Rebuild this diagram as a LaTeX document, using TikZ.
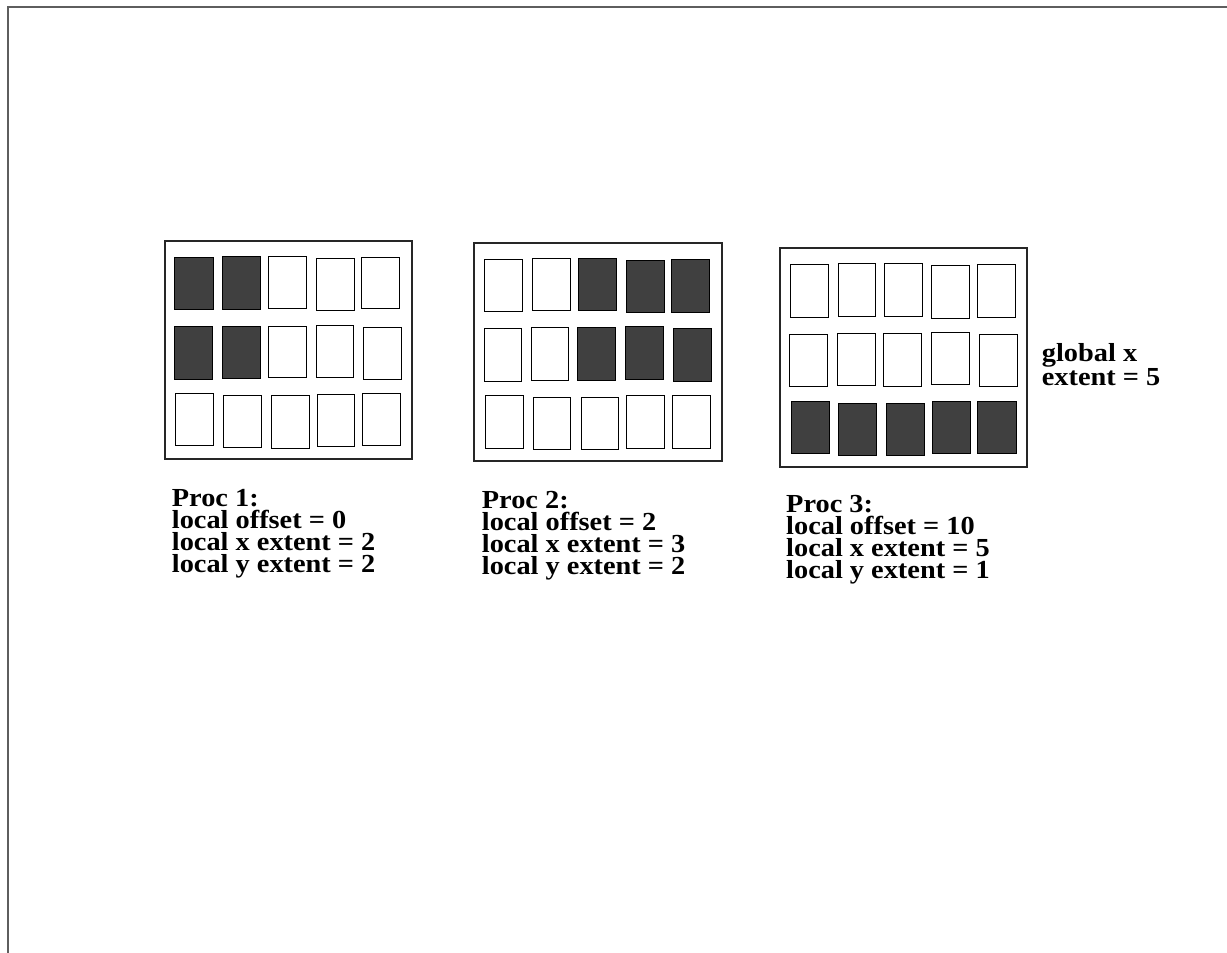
\documentclass[tikz,border=0pt]{standalone}
\usepackage{fontspec}
\setmainfont{Liberation Serif}[FakeStretch=1.09]
\definecolor{cdark}{HTML}{404040}
\definecolor{cframe}{HTML}{5E5E5E}
\tikzset{
  cellw/.style={draw=black, line width=1pt, fill=white},
  celld/.style={draw=black, line width=1pt, fill=cdark},
  procbox/.style={draw=black!85, line width=1.2pt},
  lab/.style={font=\bfseries\fontsize{26}{22}\selectfont, align=left, inner sep=0pt, anchor=base west},
}
\begin{document}
\begin{tikzpicture}[x=1pt,y=-1pt]
\useasboundingbox (0,0) rectangle (1227,953);
\draw[cframe, line width=2pt] (8.3,953) -- (8.3,6.7) -- (1227,6.7);
% boxes
\draw[procbox] (165,241) rectangle (412,459);
\draw[procbox] (474,243) rectangle (722,461);
\draw[procbox] (780,248) rectangle (1027,467);
% box 1 cells
\foreach \a/\b/\c/\d/\s in {
 174/257/213/309/celld, 222/256/260/309/celld, 268/256/306/308/cellw, 316/258/354/310/cellw, 361/257/399/308/cellw,
 174/326/212/379/celld, 222/326/260/378/celld, 268/326/306/377/cellw, 316/325/353/377/cellw, 363/327/401/379/cellw,
 175/393/213/445/cellw, 223/395/261/447/cellw, 271/395/309/448/cellw, 317/394/354/446/cellw, 362/393/400/445/cellw}
 \draw[\s] (\a,\b) rectangle (\c,\d);
% box 2 cells
\foreach \a/\b/\c/\d/\s in {
 484/259/522/311/cellw, 532/258/570/310/cellw, 578/258/616/310/celld, 626/260/664/312/celld, 671/259/709/312/celld,
 484/328/521/381/cellw, 531/327/568/380/cellw, 577/327/615/380/celld, 625/326/663/379/celld, 673/328/711/381/celld,
 485/395/523/448/cellw, 533/397/570/449/cellw, 581/397/618/449/cellw, 626/395/664/448/cellw, 672/395/710/448/cellw}
 \draw[\s] (\a,\b) rectangle (\c,\d);
% box 3 cells
\foreach \a/\b/\c/\d/\s in {
 790/264/828/317/cellw, 838/263/875/316/cellw, 884/263/922/316/cellw, 931/265/969/318/cellw, 977/264/1015/317/cellw,
 789/334/827/386/cellw, 837/333/875/385/cellw, 883/333/921/386/cellw, 931/332/969/384/cellw, 979/334/1017/386/cellw,
 791/401/829/453/celld, 838/403/876/455/celld, 886/403/924/455/celld, 932/401/970/453/celld, 977/401/1016/453/celld}
 \draw[\s] (\a,\b) rectangle (\c,\d);
% labels (anchor = baseline of last line)
\node[lab] (p1) at (171.7,572) {Proc 1:\\local offset = 0\\local x extent = 2\\local y extent = 2};
\node[lab] (p2) at (481.7,574) {Proc 2:\\local offset = 2\\local x extent = 3\\local y extent = 2};
\node[lab] (p3) at (786,578) {Proc 3:\\local offset = 10\\local x extent = 5\\local y extent = 1};
\node[lab] (gx) at (1041.7,385) {global x\\extent = 5};
\end{tikzpicture}
\end{document}
